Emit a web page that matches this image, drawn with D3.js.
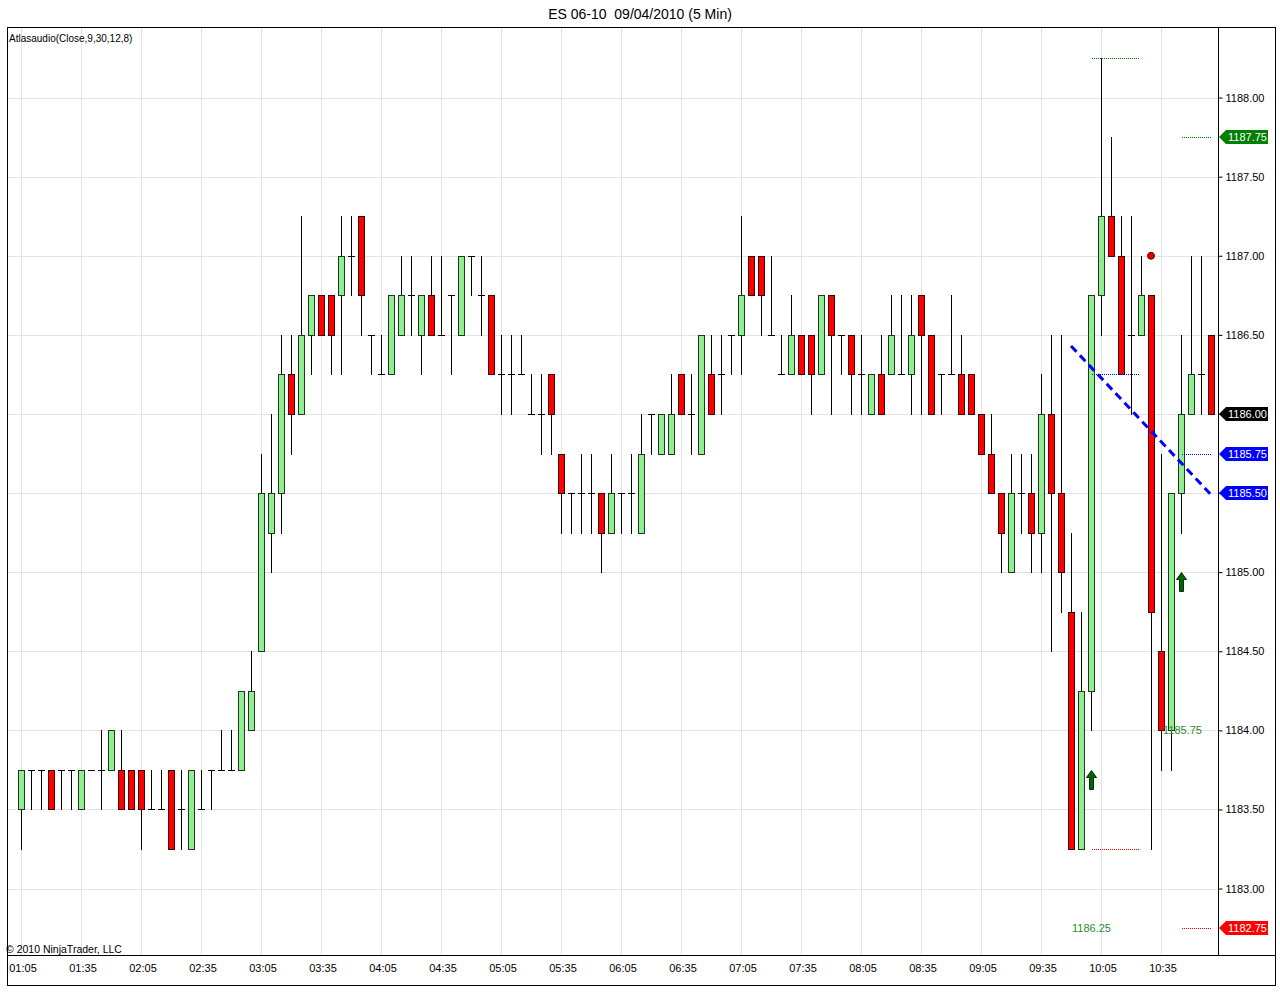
<!DOCTYPE html>
<html>
<head>
<meta charset="utf-8">
<script src="https://cdnjs.cloudflare.com/ajax/libs/d3/7.8.5/d3.min.js"></script>
<style>
body { margin: 0; background: #fff; }
text { font-family: "Liberation Sans", Arial, sans-serif; white-space: pre; }
</style>
</head>
<body>
<div id="chart"></div>
<script>

// 5 min bars, 01:05 .. 11:00
var opens = [
  1183.5, 1183.75, 1183.75, 1183.75, 1183.75, 1183.75, 1183.5, 1183.75, 1183.75, 1183.75,
  1183.75, 1183.75, 1183.75, 1183.5, 1183.5, 1183.75, 1183.5, 1183.25, 1183.5, 1183.75,
  1183.75, 1183.75, 1183.75, 1184.0, 1184.5, 1185.25, 1185.5, 1186.25, 1186.0, 1186.5,
  1186.75, 1186.75, 1186.75, 1187.0, 1187.25, 1186.5, 1186.25, 1186.25, 1186.5, 1186.75,
  1186.5, 1186.75, 1186.5, 1186.75, 1186.5, 1187.0, 1186.75, 1186.75, 1186.25, 1186.25,
  1186.25, 1186.0, 1186.0, 1186.25, 1185.75, 1185.5, 1185.5, 1185.5, 1185.5, 1185.25,
  1185.5, 1185.5, 1185.25, 1186.0, 1185.75, 1185.75, 1186.25, 1186.0, 1185.75, 1186.25,
  1186.25, 1186.5, 1186.5, 1187.0, 1187.0, 1186.5, 1186.25, 1186.25, 1186.5, 1186.5,
  1186.25, 1186.75, 1186.5, 1186.5, 1186.25, 1186.0, 1186.25, 1186.25, 1186.25, 1186.25,
  1186.75, 1186.5, 1186.25, 1186.25, 1186.25, 1186.25, 1186.0, 1185.75, 1185.5, 1185.0,
  1185.5, 1185.5, 1185.25, 1186.0, 1185.5, 1184.75, 1183.25, 1184.25, 1186.75, 1187.25,
  1187.0, 1186.5, 1186.5, 1186.75, 1184.5, 1184.0, 1185.5, 1186.0, 1186.25, 1186.5
];
var highs = [
  1183.75, 1183.75, 1183.75, 1183.75, 1183.75, 1183.75, 1183.75, 1183.75, 1184.0, 1184.0,
  1184.0, 1183.75, 1183.75, 1183.75, 1183.75, 1183.75, 1183.75, 1183.75, 1183.75, 1183.75,
  1184.0, 1184.0, 1184.25, 1184.5, 1185.75, 1186.0, 1186.5, 1186.5, 1187.25, 1186.75,
  1186.75, 1186.75, 1187.25, 1187.25, 1187.25, 1186.5, 1186.5, 1186.75, 1187.0, 1187.0,
  1186.75, 1187.0, 1187.0, 1186.75, 1187.0, 1187.0, 1187.0, 1186.75, 1186.5, 1186.5,
  1186.5, 1186.25, 1186.25, 1186.25, 1185.75, 1185.5, 1185.75, 1185.75, 1185.5, 1185.75,
  1185.5, 1185.75, 1186.0, 1186.0, 1186.0, 1186.25, 1186.25, 1186.25, 1186.5, 1186.5,
  1186.5, 1186.5, 1187.25, 1187.0, 1187.0, 1187.0, 1186.5, 1186.75, 1186.5, 1186.5,
  1186.75, 1186.75, 1186.5, 1186.5, 1186.5, 1186.25, 1186.5, 1186.75, 1186.75, 1186.75,
  1186.75, 1186.5, 1186.25, 1186.75, 1186.5, 1186.25, 1186.0, 1186.0, 1185.5, 1185.75,
  1185.75, 1185.75, 1186.25, 1186.5, 1186.5, 1185.25, 1184.75, 1186.75, 1188.25, 1187.75,
  1187.25, 1187.25, 1187.0, 1186.75, 1185.75, 1185.5, 1186.5, 1187.0, 1187.0, 1186.5
];
var lows = [
  1183.25, 1183.5, 1183.5, 1183.5, 1183.5, 1183.5, 1183.5, 1183.75, 1183.5, 1183.75,
  1183.5, 1183.5, 1183.25, 1183.5, 1183.5, 1183.25, 1183.25, 1183.25, 1183.5, 1183.5,
  1183.75, 1183.75, 1183.75, 1184.0, 1184.5, 1185.0, 1185.25, 1185.75, 1186.0, 1186.25,
  1186.5, 1186.25, 1186.25, 1186.75, 1186.5, 1186.25, 1186.25, 1186.25, 1186.5, 1186.5,
  1186.25, 1186.5, 1186.5, 1186.25, 1186.5, 1186.75, 1186.5, 1186.25, 1186.0, 1186.0,
  1186.25, 1186.0, 1185.75, 1185.75, 1185.25, 1185.25, 1185.25, 1185.25, 1185.0, 1185.25,
  1185.25, 1185.25, 1185.25, 1185.75, 1185.75, 1185.75, 1186.0, 1185.75, 1185.75, 1186.0,
  1186.0, 1186.25, 1186.25, 1186.75, 1186.5, 1186.5, 1186.25, 1186.25, 1186.25, 1186.0,
  1186.25, 1186.0, 1186.25, 1186.0, 1186.0, 1186.0, 1186.0, 1186.25, 1186.25, 1186.0,
  1186.0, 1186.0, 1186.0, 1186.25, 1186.0, 1186.0, 1185.75, 1185.5, 1185.0, 1185.0,
  1185.25, 1185.0, 1185.0, 1184.5, 1184.75, 1183.25, 1183.25, 1184.0, 1186.5, 1187.0,
  1186.25, 1186.0, 1186.5, 1183.25, 1183.75, 1183.75, 1185.25, 1186.0, 1186.0, 1186.0
];
var closes = [
  1183.75, 1183.75, 1183.75, 1183.5, 1183.75, 1183.75, 1183.75, 1183.75, 1183.75, 1184.0,
  1183.5, 1183.5, 1183.5, 1183.5, 1183.5, 1183.25, 1183.5, 1183.75, 1183.5, 1183.75,
  1183.75, 1183.75, 1184.25, 1184.25, 1185.5, 1185.5, 1186.25, 1186.0, 1186.5, 1186.75,
  1186.5, 1186.5, 1187.0, 1187.0, 1186.75, 1186.5, 1186.25, 1186.75, 1186.75, 1186.75,
  1186.75, 1186.5, 1186.5, 1186.75, 1187.0, 1187.0, 1186.75, 1186.25, 1186.25, 1186.25,
  1186.25, 1186.0, 1186.0, 1186.0, 1185.5, 1185.5, 1185.5, 1185.5, 1185.25, 1185.5,
  1185.5, 1185.5, 1185.75, 1186.0, 1186.0, 1186.0, 1186.0, 1186.0, 1186.5, 1186.0,
  1186.25, 1186.5, 1186.75, 1186.75, 1186.75, 1186.5, 1186.25, 1186.5, 1186.25, 1186.25,
  1186.75, 1186.5, 1186.5, 1186.25, 1186.25, 1186.25, 1186.0, 1186.5, 1186.25, 1186.5,
  1186.5, 1186.0, 1186.25, 1186.25, 1186.0, 1186.0, 1185.75, 1185.5, 1185.25, 1185.5,
  1185.5, 1185.25, 1186.0, 1185.5, 1185.0, 1183.25, 1184.25, 1186.75, 1187.25, 1187.0,
  1186.25, 1186.5, 1186.75, 1184.75, 1184.0, 1185.5, 1186.0, 1186.25, 1186.25, 1186.0
];

// x axis labels, one every 6 bars
var timeLabels = ["01:05", "01:35", "02:05", "02:35", "03:05", "03:35", "04:05", "04:35",
  "05:05", "05:35", "06:05", "06:35", "07:05", "07:35", "08:05", "08:35",
  "09:05", "09:35", "10:05", "10:35"];
var labelEvery = 6;

var priceTicks = [1183.0, 1183.5, 1184.0, 1184.5, 1185.0, 1185.5, 1186.0, 1186.5, 1187.0, 1187.5, 1188.0];

// price tags on the right axis
var tagPrices = [1187.75, 1186.0, 1185.75, 1185.5, 1182.75];
var tagColors = ["#007f00", "#000000", "#0000ff", "#0000ff", "#ff0000"];

// dotted levels next to the axis (bars 116-119)
var axisLevels = [1187.75, 1185.75, 1182.75];
var axisLevelColors = ["#007f00", "#0000ff", "#ff0000"];

// dotted levels of the last swing (bars 107-112)
var swingLevels = [1188.25, 1186.25, 1183.25];
var swingLevelColors = ["#007f00", "#0000ff", "#ff0000"];

// text values drawn in the plot
var noteTexts = ["1186.25", "1185.75"];
var noteBars = [105.1, 114.2];
var notePrices = [1182.75, 1184.0];

// trend line (bar, price)
var trendBars = [105, 119];
var trendPrices = [1186.43, 1185.49];

// signal arrows (bar, tip price) and dot
var arrowBars = [107, 116];
var arrowPrices = [1183.75, 1185.0];
var dotBars = [113];
var dotPrices = [1187.0];

var width = 1280;
var height = 1000;
var plotLeft = 7, plotTop = 27, plotRight = 1218, plotBottom = 955;

var bars = opens.map(function(o, i) {
  return { i: i, o: o, h: highs[i], l: lows[i], c: closes[i] };
});

var svg = d3
  .select("#chart")
  .append("svg")
  .attr("width", width)
  .attr("height", height);

var x = d3.scaleLinear().domain([0, 119]).range([21, 1211]);
var y = d3.scaleLinear().domain([1182.58, 1188.446]).range([plotBottom, plotTop]);

function px(v) { return Math.round(v) + 0.5; }

// title
svg.append("text")
  .attr("x", 640)
  .attr("y", 19)
  .attr("text-anchor", "middle")
  .attr("font-size", 14)
  .text("ES 06-10  09/04/2010 (5 Min)");

// grid
svg.append("g")
  .selectAll("line")
  .data(priceTicks)
  .enter()
  .append("line")
  .attr("x1", plotLeft)
  .attr("x2", plotRight)
  .attr("y1", function(d) { return px(y(d)); })
  .attr("y2", function(d) { return px(y(d)); })
  .attr("stroke", "#e3e3e3");

svg.append("g")
  .selectAll("line")
  .data(timeLabels)
  .enter()
  .append("line")
  .attr("x1", function(d, i) { return px(x(i * labelEvery)); })
  .attr("x2", function(d, i) { return px(x(i * labelEvery)); })
  .attr("y1", plotTop)
  .attr("y2", plotBottom)
  .attr("stroke", "#e3e3e3");

// frame
svg.append("rect")
  .attr("x", plotLeft + 0.5)
  .attr("y", plotTop + 0.5)
  .attr("width", 1275 - plotLeft)
  .attr("height", 985 - plotTop)
  .attr("fill", "none")
  .attr("stroke", "#000");
svg.append("line")
  .attr("x1", plotLeft).attr("x2", 1276)
  .attr("y1", plotBottom + 0.5).attr("y2", plotBottom + 0.5)
  .attr("stroke", "#000");
svg.append("line")
  .attr("x1", plotRight + 0.5).attr("x2", plotRight + 0.5)
  .attr("y1", plotTop).attr("y2", plotBottom)
  .attr("stroke", "#000");

// y axis
var yAxis = d3.axisRight(y)
  .tickValues(priceTicks)
  .tickSize(4)
  .tickPadding(3)
  .tickFormat(d3.format(".2f"));

var yg = svg.append("g")
  .attr("transform", "translate(" + (plotRight + 0.5) + ",0)")
  .call(yAxis);
yg.select(".domain").remove();
yg.selectAll("text")
  .attr("font-size", 11)
  .attr("font-family", "Liberation Sans, Arial, sans-serif")
  .attr("fill", "#000");
yg.selectAll("line").attr("stroke", "#000");

// x axis labels
svg.append("g")
  .selectAll("text")
  .data(timeLabels)
  .enter()
  .append("text")
  .attr("x", function(d, i) { return x(i * labelEvery) + 2; })
  .attr("y", 972)
  .attr("text-anchor", "middle")
  .attr("font-size", 11)
  .text(function(d) { return d; });

// legend + copyright
svg.append("text")
  .attr("x", 9)
  .attr("y", 42)
  .attr("font-size", 10)
  .text("Atlasaudio(Close,9,30,12,8)");
svg.append("text")
  .attr("x", 6)
  .attr("y", 953)
  .attr("font-size", 10.5)
  .text("\u00a9 2010 NinjaTrader, LLC");

// candles
var candles = svg.append("g");

candles.selectAll("line.wick")
  .data(bars)
  .enter()
  .append("line")
  .attr("class", "wick")
  .attr("x1", function(d) { return px(x(d.i)); })
  .attr("x2", function(d) { return px(x(d.i)); })
  .attr("y1", function(d) { return Math.round(y(d.h)); })
  .attr("y2", function(d) { return Math.round(y(d.l)) + 1; })
  .attr("stroke", "#000");

candles.selectAll("line.doji")
  .data(bars.filter(function(d) { return d.o === d.c; }))
  .enter()
  .append("line")
  .attr("class", "doji")
  .attr("x1", function(d) { return Math.round(x(d.i)) - 3; })
  .attr("x2", function(d) { return Math.round(x(d.i)) + 4; })
  .attr("y1", function(d) { return px(y(d.o)); })
  .attr("y2", function(d) { return px(y(d.o)); })
  .attr("stroke", "#000");

candles.selectAll("rect.body")
  .data(bars.filter(function(d) { return d.o !== d.c; }))
  .enter()
  .append("rect")
  .attr("class", "body")
  .attr("x", function(d) { return Math.round(x(d.i)) - 3 + 0.5; })
  .attr("width", 6)
  .attr("y", function(d) { return px(y(Math.max(d.o, d.c))); })
  .attr("height", function(d) { return Math.round(y(Math.min(d.o, d.c))) - Math.round(y(Math.max(d.o, d.c))); })
  .attr("fill", function(d) { return d.c > d.o ? "#90ee90" : "#ff0000"; })
  .attr("stroke", function(d) { return d.c > d.o ? "#1e3a1e" : "#3a0000"; });

// swing levels
svg.append("g")
  .selectAll("line")
  .data(swingLevels)
  .enter()
  .append("line")
  .attr("x1", x(107.1))
  .attr("x2", x(111.9))
  .attr("y1", function(d) { return px(y(d)); })
  .attr("y2", function(d) { return px(y(d)); })
  .attr("stroke", function(d, i) { return swingLevelColors[i]; })
  .attr("stroke-dasharray", "1,1");

// axis levels
svg.append("g")
  .selectAll("line")
  .data(axisLevels)
  .enter()
  .append("line")
  .attr("x1", x(116.1))
  .attr("x2", x(119.1))
  .attr("y1", function(d) { return px(y(d)); })
  .attr("y2", function(d) { return px(y(d)); })
  .attr("stroke", function(d, i) { return axisLevelColors[i]; })
  .attr("stroke-dasharray", "1,1");

// trend line
svg.append("line")
  .attr("x1", x(trendBars[0]))
  .attr("y1", y(trendPrices[0]))
  .attr("x2", x(trendBars[1]))
  .attr("y2", y(trendPrices[1]))
  .attr("stroke", "#0000ff")
  .attr("stroke-width", 3)
  .attr("stroke-dasharray", "8,5");

// notes
svg.append("g")
  .selectAll("text")
  .data(noteTexts)
  .enter()
  .append("text")
  .attr("x", function(d, i) { return x(noteBars[i]); })
  .attr("y", function(d, i) { return y(notePrices[i]) + 4; })
  .attr("font-size", 11)
  .attr("fill", "#2e8b2e")
  .text(function(d) { return d; });

// arrows
svg.append("g")
  .selectAll("path")
  .data(arrowBars)
  .enter()
  .append("path")
  .attr("d", function(d, i) {
    var cx = Math.round(x(d)) + 0.5, ty = Math.round(y(arrowPrices[i])) + 0.5;
    return "M" + cx + "," + ty +
      "L" + (cx + 5) + "," + (ty + 7) +
      "L" + (cx + 2) + "," + (ty + 7) +
      "L" + (cx + 2) + "," + (ty + 19) +
      "L" + (cx - 2) + "," + (ty + 19) +
      "L" + (cx - 2) + "," + (ty + 7) +
      "L" + (cx - 5) + "," + (ty + 7) + "Z";
  })
  .attr("fill", "#006400")
  .attr("stroke", "#003300");

// dot
svg.append("g")
  .selectAll("circle")
  .data(dotBars)
  .enter()
  .append("circle")
  .attr("cx", function(d) { return x(d); })
  .attr("cy", function(d, i) { return y(dotPrices[i]); })
  .attr("r", 3.5)
  .attr("fill", "#dd0000")
  .attr("stroke", "#7a0000");

// price tags
var tags = svg.append("g")
  .selectAll("g")
  .data(tagPrices)
  .enter()
  .append("g")
  .attr("transform", function(d) { return "translate(" + (plotRight + 1) + "," + Math.round(y(d)) + ")"; });

tags.append("path")
  .attr("d", "M0,0L7,-7L49,-7L49,7L7,7Z")
  .attr("fill", function(d, i) { return tagColors[i]; });

tags.append("text")
  .attr("x", 9)
  .attr("y", 4)
  .attr("font-size", 11)
  .attr("fill", "#fff")
  .text(function(d) { return d.toFixed(2); });

</script>
</body>
</html>
